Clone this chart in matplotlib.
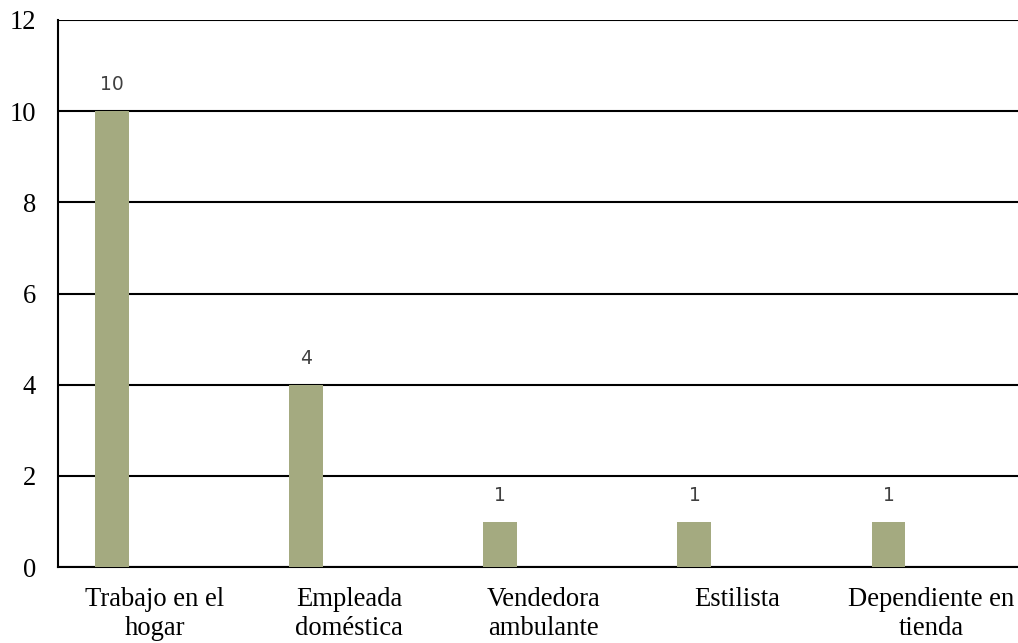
import numpy as np
import matplotlib
matplotlib.use("Agg")
import matplotlib.pyplot as plt

categories = ["Trabajo en el\nhogar", "Empleada\ndoméstica", "Vendedora\nambulante",
              "Estilista", "Dependiente en\ntienda"]
values = [10, 4, 1, 1, 1]
yticks = [0, 2, 4, 6, 8, 10, 12]

fig = plt.figure(figsize=(10.18, 6.43), dpi=100)
ax = fig.add_axes([0.057, 0.118, 0.953, 0.851])

x = np.arange(len(categories))
bars = ax.bar(x - 0.22, values, width=0.175, color="#A4AA80", zorder=3)

for b, v in zip(bars, values):
    ax.annotate(str(v), (b.get_x() + b.get_width() / 2, v), xytext=(0, 12),
                textcoords="offset points", ha="center", va="bottom",
                fontsize=13.5, color="#404040", family="DejaVu Sans")

ax.set_xlim(-0.5, len(categories) - 0.5)
ax.set_ylim(0, 12)
ax.set_yticks(yticks)
ax.set_xticks(x)
ax.set_xticklabels(categories, family="Liberation Serif", fontsize=19.2,
                   linespacing=1.22, multialignment="center")
for lbl in ax.get_yticklabels():
    lbl.set_family("Liberation Serif")
    lbl.set_fontsize(19.2)
ax.tick_params(axis="both", length=0)
ax.tick_params(axis="y", pad=16)
ax.tick_params(axis="x", pad=14)

ax.grid(axis="y", color="black", linewidth=1.5, zorder=1)
for side in ["top", "right"]:
    ax.spines[side].set_visible(False)
for side in ["left", "bottom"]:
    ax.spines[side].set_color("black")
    ax.spines[side].set_linewidth(1.5)

fig.savefig("out.png", dpi=100)
